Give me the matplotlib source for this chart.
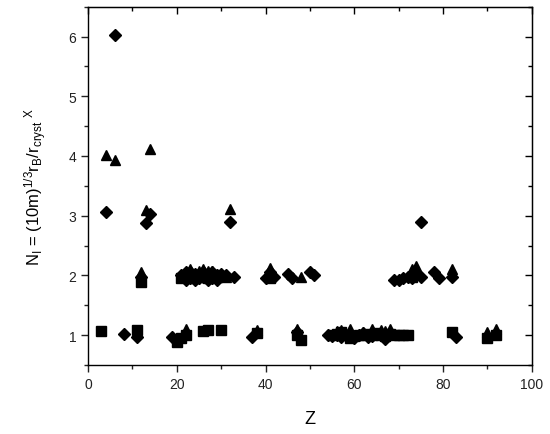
import matplotlib
matplotlib.use('Agg')
import matplotlib.pyplot as plt
from matplotlib.ticker import MultipleLocator

plt.rcParams['font.family'] = ['Liberation Sans', 'DejaVu Sans']
plt.rcParams['mathtext.default'] = 'regular'

# squares
sq_z = [3, 11, 12, 20, 21, 22, 21, 22, 24, 25, 26, 27, 27, 29, 30, 38, 41, 47, 48,
        55, 56, 57, 58, 59, 60, 61, 62, 63, 64, 65, 66, 67, 68, 69, 70, 71, 72, 73, 82, 90, 92]
sq_n = [1.07, 1.08, 1.88, 0.88, 0.95, 1.0, 1.95, 1.98, 1.95, 2.0, 1.07, 1.08, 1.95, 1.98, 1.08, 1.03, 1.95, 1.0, 0.92,
        1.0, 1.02, 1.05, 1.0, 0.95, 0.98, 1.0, 1.0, 1.02, 1.0, 1.03, 1.0, 0.98, 1.02, 1.0, 1.0, 1.0, 1.0, 1.97, 1.05, 0.95, 1.0]

# diamonds
di_z = [4, 6, 8, 11, 13, 14, 12, 19, 20, 21, 22, 22, 23, 23, 24, 24, 25, 25, 26, 26, 27, 27, 28, 28,
        29, 29, 30, 31, 32, 33, 37, 40, 41, 42, 45, 46, 50, 51, 47, 54, 55, 56, 57, 58, 60, 61, 62, 63,
        64, 65, 67, 68, 69, 70, 71, 72, 73, 74, 75, 75, 78, 79, 82, 83]
di_n = [3.06, 6.02, 1.02, 0.97, 2.87, 3.03, 1.97, 0.97, 0.93, 2.0, 2.05, 1.93, 1.95, 2.05, 1.92, 2.02, 2.03, 1.95, 1.97, 2.05,
        2.0, 1.92, 1.95, 2.05, 2.0, 1.93, 2.03, 2.0, 2.9, 1.98, 0.97, 1.95, 2.05, 1.97, 2.02, 1.95, 2.05, 2.0, 1.05,
        1.0, 0.98, 1.0, 0.97, 1.02, 0.95, 1.0, 1.03, 0.97, 0.98, 1.02, 0.93, 1.02, 1.92, 1.93, 1.95, 1.97, 1.95, 2.0,
        2.9, 1.98, 2.05, 1.95, 1.98, 0.97]

# triangles
tr_z = [4, 6, 14, 13, 12, 22, 23, 25, 26, 27, 28, 31, 32, 38, 41, 48, 47, 56, 57, 59, 62, 64, 66,
        67, 68, 74, 73, 82, 92, 90]
tr_n = [4.02, 3.93, 4.11, 3.1, 2.05, 1.1, 2.1, 2.08, 2.1, 2.08, 2.08, 1.97, 3.12, 1.08, 2.12, 1.97, 1.1, 1.06, 1.08, 1.1,
        1.05, 1.1, 1.08, 1.06, 1.1, 2.15, 2.1, 2.1, 1.1, 1.05]

fig = plt.figure(figsize=(5.5, 4.35), dpi=100)
ax = fig.add_axes([0.16, 0.159, 0.807, 0.823])

ax.plot(sq_z, sq_n, ls='', marker='s', ms=6.5, color='black')
ax.plot(di_z, di_n, ls='', marker='D', ms=6, color='black')
ax.plot(tr_z, tr_n, ls='', marker='^', ms=7.5, color='black')

ax.set_xlim(0, 100)
ax.set_ylim(0.5, 6.5)
ax.xaxis.set_major_locator(MultipleLocator(20))
ax.xaxis.set_minor_locator(MultipleLocator(10))
ax.yaxis.set_major_locator(MultipleLocator(1))
ax.yaxis.set_minor_locator(MultipleLocator(0.5))
ax.tick_params(which='both', direction='out', labelsize=10, width=1, colors='#222222')
ax.tick_params(which='major', length=5)
ax.tick_params(which='minor', length=3)
for spine in ax.spines.values():
    spine.set_linewidth(1)

# mirror ticks on top and right, pointing inwards
top = ax.secondary_xaxis('top')
top.xaxis.set_major_locator(MultipleLocator(20))
top.xaxis.set_minor_locator(MultipleLocator(10))
top.tick_params(which='both', direction='in', labeltop=False, width=1)
top.tick_params(which='major', length=5)
top.tick_params(which='minor', length=3)
right = ax.secondary_yaxis('right')
right.yaxis.set_major_locator(MultipleLocator(1))
right.yaxis.set_minor_locator(MultipleLocator(0.5))
right.tick_params(which='both', direction='in', labelright=False, width=1)
right.tick_params(which='major', length=5)
right.tick_params(which='minor', length=3)

ax.set_xlabel('Z', fontsize=13, labelpad=14)
ax.set_ylabel(r'N$_I$ = (10m)$^{1/3}$r$_B$/r$_{cryst}$$^{\ X}$', fontsize=12, labelpad=14)

fig.savefig('out.png', dpi=100)
